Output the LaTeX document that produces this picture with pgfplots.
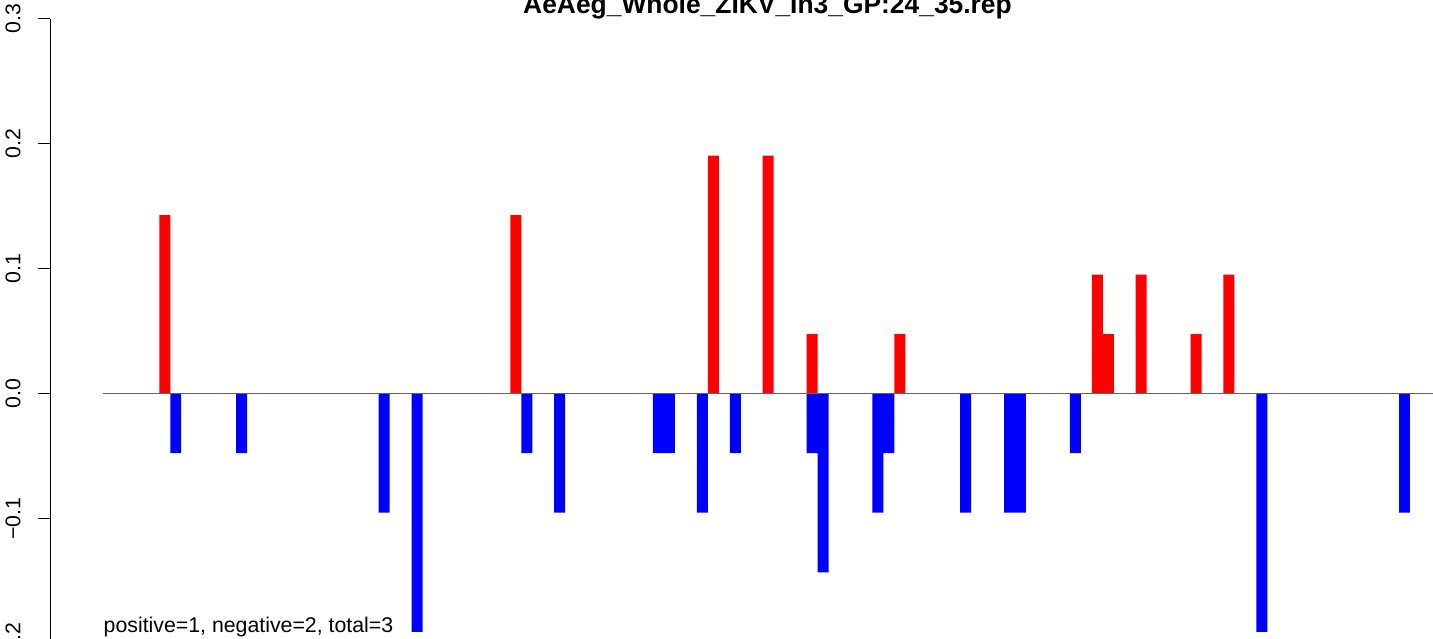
\documentclass[border=0pt]{standalone}
\usepackage{fontspec}
\setmainfont{Liberation Sans}
\usepackage{pgfplots}
\pgfplotsset{compat=1.18}
\definecolor{zline}{RGB}{100,100,100}
\begin{document}
\begin{tikzpicture}
\begin{axis}[
  x=5.4855pt, y=625pt,
  xmin=-9.917, xmax=116.10,
  ymin=-0.2, ymax=0.3,
  axis x line=none,
  axis y line*=left,
  axis line style={line width=0.6pt, black},
  ytick={-0.2,-0.1,0,0.1,0.2,0.3},
  yticklabels={−0.2,−0.1,0.0,0.1,0.2,0.3},
  tick align=outside,
  major tick length=6.4pt,
  tick style={line width=0.6pt, black},
  yticklabel style={xshift=-8.7pt, rotate=90, anchor=base, font=\fontsize{10.65}{12}\selectfont},
  clip=false,
  ybar, bar width=1, bar shift=0pt,
]
% positive scores (red)
\addplot[draw=none, fill={rgb,255:red,255;green,0;blue,0}] coordinates {
 (0.5,0.1429) (32.5,0.1429) (50.5,0.1905) (55.5,0.1905) (59.5,0.0476)
 (67.5,0.0476) (85.5,0.0952) (86.5,0.0476) (89.5,0.0952) (94.5,0.0476)
 (97.5,0.0952)};
% negative scores (blue)
\addplot[draw=none, fill={rgb,255:red,0;green,0;blue,255}] coordinates {
 (1.5,-0.0476) (7.5,-0.0476) (20.5,-0.0952) (23.5,-0.1905) (33.5,-0.0476)
 (36.5,-0.0952) (45.5,-0.0476) (46.5,-0.0476) (49.5,-0.0952) (52.5,-0.0476)
 (59.5,-0.0476) (60.5,-0.1429) (65.5,-0.0952) (66.5,-0.0476) (73.5,-0.0952)
 (77.5,-0.0952) (78.5,-0.0952) (83.5,-0.0476) (100.5,-0.1905) (113.5,-0.0952)};
% zero line
\addplot[sharp plot, zline, line width=0.6pt, no marks] coordinates {(-5.104,0) (116.10,0)};
\node[anchor=base, font=\bfseries\fontsize{13.2}{15}\selectfont, inner sep=0pt] at (axis cs:55.44,0.30456) {AeAeg\_Whole\_ZIKV\_In3\_GP:24\_35.rep};
\node[anchor=base west, font=\fontsize{10.65}{12}\selectfont, inner sep=0pt] at (axis cs:-5.104,-0.1908) {positive=1, negative=2, total=3};
\coordinate (bl) at (axis cs:-14.520,-0.19624);
\coordinate (tr) at (axis cs:116.10,0.31496);
\end{axis}
\pgfresetboundingbox
\useasboundingbox (bl) rectangle (tr);
\end{tikzpicture}
\end{document}
